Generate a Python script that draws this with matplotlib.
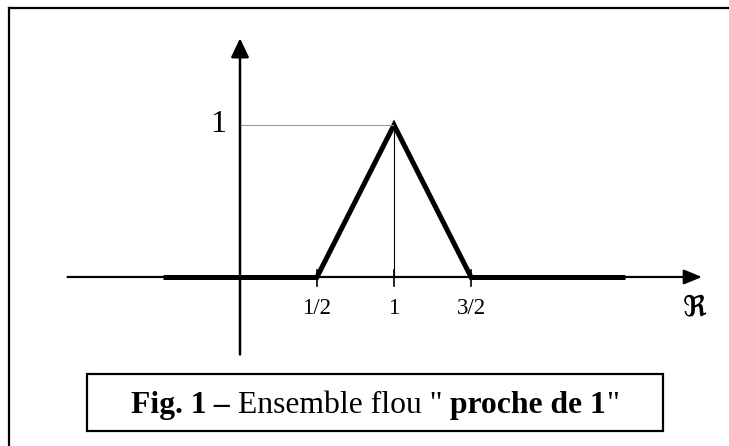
import matplotlib
matplotlib.use("Agg")
import matplotlib.pyplot as plt
from matplotlib.patches import Rectangle
from matplotlib.lines import Line2D

# ---- data ----
tri_x = [0.5, 1.0, 1.5]          # support of fuzzy set "close to 1"
tri_mu = [0.0, 1.0, 0.0]
zero_left = [-0.5, 0.5]          # membership 0 on the left
zero_right = [1.5, 2.5]          # membership 0 on the right
tick_vals = [0.5, 1.0, 1.5]
tick_labels = ["1/2", "1", "3/2"]
peak_x = 1.0
peak_mu = 1.0
x_axis_range = [-1.12, 3.0]
y_axis_range = [-0.51, 1.57]

W, H = 729, 446
fig = plt.figure(figsize=(W / 100, H / 100), dpi=100)
ax = fig.add_axes([0, 0, 1, 1])
# pixel mapping: x=0 -> 240px, 154 px/unit ; y=0 -> 277px, 152 px/unit
x0p, sx = 240.0, 154.0
y0p, sy = 277.0, 152.0
ax.set_xlim((0 - x0p) / sx, (W - x0p) / sx)
ax.set_ylim((y0p - H) / sy, y0p / sy)
ax.axis("off")

serif = ["Liberation Serif", "DejaVu Serif"]

# outer frame (top and left edges)
fig.add_artist(Line2D([9 / W, 1], [1 - 8 / H, 1 - 8 / H], transform=fig.transFigure,
                      color="black", lw=1.6))
fig.add_artist(Line2D([9 / W, 9 / W], [0, 1 - 8 / H], transform=fig.transFigure,
                      color="black", lw=1.6))

# axes with arrows
ax.annotate("", xy=(x_axis_range[1], 0), xytext=(x_axis_range[0], 0),
            arrowprops=dict(arrowstyle="-|>,head_length=1.1,head_width=0.45",
                            lw=1.6, color="black", shrinkA=0, shrinkB=0,
                            mutation_scale=10))
ax.annotate("", xy=(0, y_axis_range[1]), xytext=(0, y_axis_range[0]),
            arrowprops=dict(arrowstyle="-|>,head_length=1.15,head_width=0.55",
                            lw=1.8, color="black", shrinkA=0, shrinkB=0,
                            mutation_scale=10))

# membership function
ax.plot(zero_left, [0, 0], color="black", lw=3.6, solid_capstyle="butt")
ax.plot(zero_right, [0, 0], color="black", lw=3.6, solid_capstyle="butt")
ax.plot(tri_x, tri_mu, color="black", lw=3.6, solid_joinstyle="miter")

# guide lines
ax.plot([0, peak_x], [peak_mu, peak_mu], color="#999999", lw=0.8)
ax.plot([peak_x, peak_x], [0, peak_mu], color="black", lw=0.8)

# ticks and labels
for v, lab in zip(tick_vals, tick_labels):
    ax.plot([v, v], [7 / sy, -9 / sy], color="black", lw=1.2)
    ax.text(v, -32 / sy, lab, ha="center", va="center", fontsize=16.5,
            family=serif)
ax.text(-22 / sx, peak_mu, "1", ha="center", va="center", fontsize=23,
        family=serif)
ax.text(x_axis_range[1] - 7 / sx, -30 / sy, "ℜ", ha="center", va="center",
        fontsize=21, fontweight="bold", family=["DejaVu Serif", "DejaVu Sans"])

# caption box
fig.add_artist(Rectangle((87 / W, 1 - 431 / H), (663 - 87) / W, (431 - 374) / H,
                         transform=fig.transFigure, fill=False,
                         edgecolor="black", lw=1.6))

parts = [("Fig. 1", "bold"), (" \u2013 ", "bold"), ("Ensemble flou \" ", "normal"),
         ("proche de 1", "bold"), ("\"", "normal")]
fs = 22.8
renderer = fig.canvas.get_renderer()
texts = []
for s, w in parts:
    t = fig.text(0, 0, s, fontsize=fs, fontweight=w, family=serif,
                 ha="left", va="baseline")
    texts.append(t)
widths = [t.get_window_extent(renderer).width for t in texts]
total = sum(widths)
xcur = (87 + 663) / 2 - total / 2
base_y = 1 - 413 / H
for t, wdt in zip(texts, widths):
    t.set_position((xcur / W, base_y))
    xcur += wdt

fig.savefig("out.png", dpi=100)
